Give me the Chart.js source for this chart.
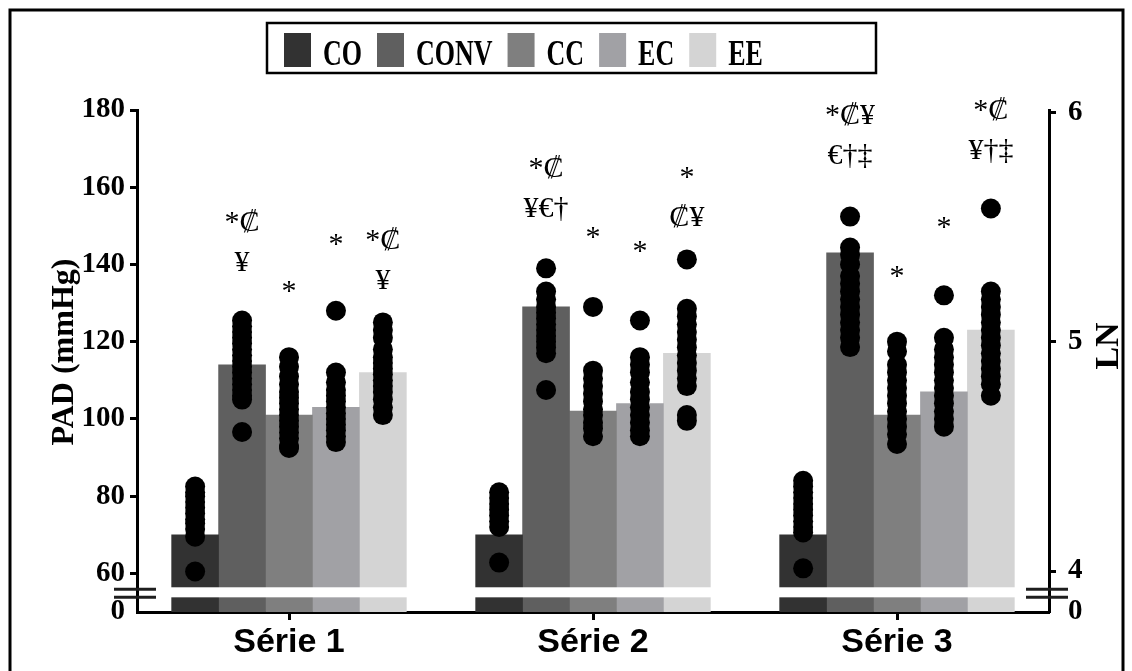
<!DOCTYPE html>
<html>
<head>
<meta charset="utf-8">
<script src="https://cdn.jsdelivr.net/npm/chart.js@4.4.0/dist/chart.umd.min.js"></script>
<style>
  html, body { margin: 0; padding: 0; background: #fff; }
  #wrap { width: 1132px; height: 671px; }
</style>
</head>
<body>
<div id="wrap"><canvas id="c" width="1132" height="671"></canvas></div>
<script>
const categories = ['Série 1', 'Série 2', 'Série 3'];
const groups = ['CO', 'CONV', 'CC', 'EC', 'EE'];
const barColors = ['#323232', '#5f5f5f', '#7f7f7f', '#a1a1a5', '#d4d4d4'];

// group means (bars)
const coMean = [70, 70, 70];
const convMean = [114, 129, 143];
const ccMean = [101, 102, 101];
const ecMean = [103, 104, 107];
const eeMean = [112, 117, 123];

// individual values (dots)
const coPts = [
    [82.5, 81, 80, 78.5, 77, 75.5, 74, 73, 71.5, 69.5, 60.5],
    [81, 79.5, 78, 76.5, 75, 73.5, 72, 62.8],
    [84, 82.5, 81, 79.5, 78, 76.5, 75, 73.5, 72, 70.6, 61.3]
];
const convPts = [
    [125.5, 124, 122.5, 121, 119.5, 118, 116.5, 115, 113.5, 112, 110.5, 109, 107.5, 106, 105, 96.6],
    [139, 133, 131, 129, 127.5, 126, 124.5, 123, 121.5, 120, 118.5, 117, 107.5],
    [152.4, 144.4, 142.5, 140, 137, 135, 133, 131, 129, 127, 125, 123, 121, 118.6]
];
const ccPts = [
    [116, 113.5, 111, 109, 107, 105.5, 104, 102.5, 101, 99.5, 98, 96.5, 95, 93, 92.5],
    [129, 112.5, 110.5, 108.5, 106.5, 104.5, 102.5, 101, 99, 97.5, 95.5],
    [120, 117.5, 114, 112, 110, 108, 106, 104, 102, 100, 98, 96, 93.5]
];
const ecPts = [
    [128, 112, 109.5, 107.5, 106, 104.5, 103, 101.5, 100, 98.5, 97, 95.5, 94],
    [125.5, 116, 114, 112, 109.5, 107, 105, 103, 101, 99, 97, 95.5],
    [132, 121, 118, 116, 114, 112, 110, 108, 106, 104, 102, 100, 98]
];
const eePts = [
    [125, 123, 121, 118, 116, 114.5, 113, 111.5, 110, 108.5, 107, 105, 103, 101],
    [141.3, 128.5, 126.5, 124.5, 122.5, 120.5, 118.5, 116.5, 114.5, 112.5, 110.5, 108.5, 101, 99.5],
    [154.5, 133, 131, 129, 127, 125, 123, 121, 119, 117, 115, 113, 111, 109, 106]
];

// significance marks (lines) and the mmHg level of the last line's baseline
const coSig = [[], [], []];
const convSig = [['*₡', '¥'], ['*₡', '¥€†'], ['*₡¥', '€†‡']];
const ccSig = [['*'], ['*'], ['*']];
const ecSig = [['*'], ['*'], ['*']];
const eeSig = [['*₡', '¥'], ['*', '₡¥'], ['*₡', '¥†‡']];
const coSigAt = [0, 0, 0];
const convSigAt = [138.3, 152.3, 166.0];
const ccSigAt = [130.8, 144.8, 134.7];
const ecSigAt = [143.0, 141.2, 147.4];
const eeSigAt = [133.6, 150.0, 167.3];

const leftTicks = [60, 80, 100, 120, 140, 160, 180];
const rightTicks = [4, 5, 6];

const means = [coMean, convMean, ccMean, ecMean, eeMean];
const points = [coPts, convPts, ccPts, ecPts, eePts];
const sigs = [coSig, convSig, ccSig, ecSig, eeSig];
const sigAt = [coSigAt, convSigAt, ccSigAt, ecSigAt, eeSigAt];

const LEFT_MIN = 50, LEFT_MAX = 180;
const RIGHT_MIN = 3.821, RIGHT_MAX = 6.013;
const CAT_PCT = 0.772;
const BREAK_HI = 56.4, BREAK_LO = 53.8;

// centre of bar k inside a category, in category units
const barOffset = k => -CAT_PCT / 2 + CAT_PCT / groups.length * (k + 0.5);

const serif = 'Liberation Serif';
const sans = 'Liberation Sans';

const datasets = groups.map((g, k) => ({
    type: 'bar',
    label: g,
    data: means[k].map((v, i) => ({ x: i + barOffset(k), y: v })),
    backgroundColor: barColors[k],
    borderWidth: 0,
    grouped: false,
    categoryPercentage: 1,
    barPercentage: 1,
    xAxisID: 'xd',
    yAxisID: 'y'
}));

const dots = [];
points.forEach((grp, k) => {
    grp.forEach((vals, i) => {
        vals.forEach(v => dots.push({ x: i + barOffset(k), y: v }));
    });
});
datasets.push({
    type: 'scatter',
    label: 'individual',
    data: dots,
    xAxisID: 'xd',
    yAxisID: 'y',
    pointRadius: 10,
    pointBackgroundColor: '#000',
    pointBorderWidth: 0,
    order: -1
});

const decor = {
    id: 'decor',
    afterDatasetsDraw(chart) {
        const { ctx, chartArea } = chart;
        const y = chart.scales.y;
        const top = y.getPixelForValue(BREAK_HI), bot = y.getPixelForValue(BREAK_LO);
        ctx.save();
        ctx.fillStyle = '#fff';
        ctx.fillRect(chartArea.left + 2, top, chartArea.right - chartArea.left - 4, bot - top);
        ctx.restore();
    },
    afterDraw(chart) {
        const { ctx, chartArea } = chart;
        const y = chart.scales.y, xd = chart.scales.xd;
        const top = y.getPixelForValue(BREAK_HI), bot = y.getPixelForValue(BREAK_LO);
        ctx.save();

        // axis break marks
        ctx.strokeStyle = '#1e1e1e';
        ctx.lineWidth = 3;
        [chartArea.left, chartArea.right].forEach(ax => {
            [top + 2, bot] .forEach(py => {
                ctx.beginPath();
                ctx.moveTo(ax - 23, py);
                ctx.lineTo(ax + 19, py);
                ctx.stroke();
            });
        });

        // significance marks
        ctx.fillStyle = '#000';
        ctx.textAlign = 'center';
        ctx.textBaseline = 'alphabetic';
        ctx.font = '30px "' + serif + '"';
        sigs.forEach((grp, k) => {
            grp.forEach((lines, i) => {
                if (!lines.length) return;
                const px = xd.getPixelForValue(i + barOffset(k));
                const py = y.getPixelForValue(sigAt[k][i]);
                lines.forEach((t, j) => {
                    ctx.fillText(t, px, py - (lines.length - 1 - j) * 40);
                });
            });
        });

        // axis titles
        ctx.font = 'bold 32px "' + serif + '"';
        ctx.save();
        ctx.translate(73, 352);
        ctx.rotate(-Math.PI / 2);
        ctx.fillText('PAD (mmHg)', 0, 0);
        ctx.restore();
        ctx.font = 'bold 34px "' + serif + '"';
        ctx.save();
        ctx.translate(1118, 346);
        ctx.rotate(-Math.PI / 2);
        ctx.fillText('LN', 0, 0);
        ctx.restore();

        // legend
        ctx.lineWidth = 2.5;
        ctx.strokeStyle = '#000';
        ctx.strokeRect(267, 23, 609, 50);
        ctx.font = 'bold 26px "' + serif + '"';
        ctx.textAlign = 'left';
        let lx = 284;
        chart.data.datasets.filter(d => d.type === 'bar').forEach(d => {
            ctx.fillStyle = d.backgroundColor;
            ctx.fillRect(lx, 33, 27, 34);
            lx += 27 + 12;
            ctx.fillStyle = '#000';
            ctx.save();
            ctx.translate(lx, 65);
            ctx.scale(1, 1.4);
            ctx.fillText(d.label, 0, 0);
            ctx.restore();
            lx += ctx.measureText(d.label).width + 15;
        });

        // frame
        ctx.lineWidth = 3;
        ctx.strokeRect(10, 10, 1113, 700);
        ctx.restore();
    }
};

const tickFont = { family: serif, weight: 'bold', size: 29 };

new Chart(document.getElementById('c'), {
    type: 'bar',
    data: { labels: categories, datasets },
    options: {
        responsive: false,
        animation: false,
        events: [],
        layout: { padding: { top: 110, left: 0, right: 0, bottom: 0 } },
        plugins: {
            legend: { display: false },
            tooltip: { enabled: false }
        },
        scales: {
            x: {
                type: 'category',
                offset: true,
                grid: { drawOnChartArea: false, offset: false, tickLength: 8, tickWidth: 3, tickColor: '#000' },
                border: { width: 3, color: '#000' },
                ticks: { color: '#000', font: { family: sans, weight: 'bold', size: 34 }, padding: 2 },
                afterFit: s => { s.height = 59; s.paddingLeft = 0; s.paddingRight = 0; }
            },
            xd: {
                type: 'linear',
                display: false,
                offset: false,
                min: -0.5,
                max: 2.5,
                afterBuildTicks: s => { s.ticks = [{ value: -0.5 }, { value: 2.5 }]; }
            },
            y: {
                type: 'linear',
                position: 'left',
                min: LEFT_MIN,
                max: LEFT_MAX,
                afterBuildTicks: s => { s.ticks = [LEFT_MIN, ...leftTicks].map(v => ({ value: v })); },
                ticks: { color: '#000', font: tickFont, padding: 5, callback: v => v === LEFT_MIN ? '0' : v },
                grid: {
                    drawOnChartArea: false, tickLength: 7, tickWidth: 3,
                    tickColor: c => (c.tick && c.tick.value === LEFT_MIN) ? 'rgba(0,0,0,0)' : '#000'
                },
                border: { width: 3, color: '#000' },
                afterFit: s => { s.width = 137; s.paddingTop = 0; s.paddingBottom = 0; }
            },
            y2: {
                type: 'linear',
                position: 'right',
                min: RIGHT_MIN,
                max: RIGHT_MAX,
                afterBuildTicks: s => { s.ticks = [RIGHT_MIN, ...rightTicks].map(v => ({ value: v })); },
                ticks: { color: '#000', font: tickFont, padding: 12, callback: v => v === RIGHT_MIN ? '0' : v },
                grid: {
                    drawOnChartArea: false, tickLength: 7, tickWidth: 3,
                    tickColor: c => (c.tick && c.tick.value === RIGHT_MIN) ? 'rgba(0,0,0,0)' : '#000'
                },
                border: { width: 3, color: '#000' },
                afterFit: s => { s.width = 1132 - 1049; s.paddingTop = 0; s.paddingBottom = 0; }
            }
        }
    },
    plugins: [decor]
});
</script>
</body>
</html>
